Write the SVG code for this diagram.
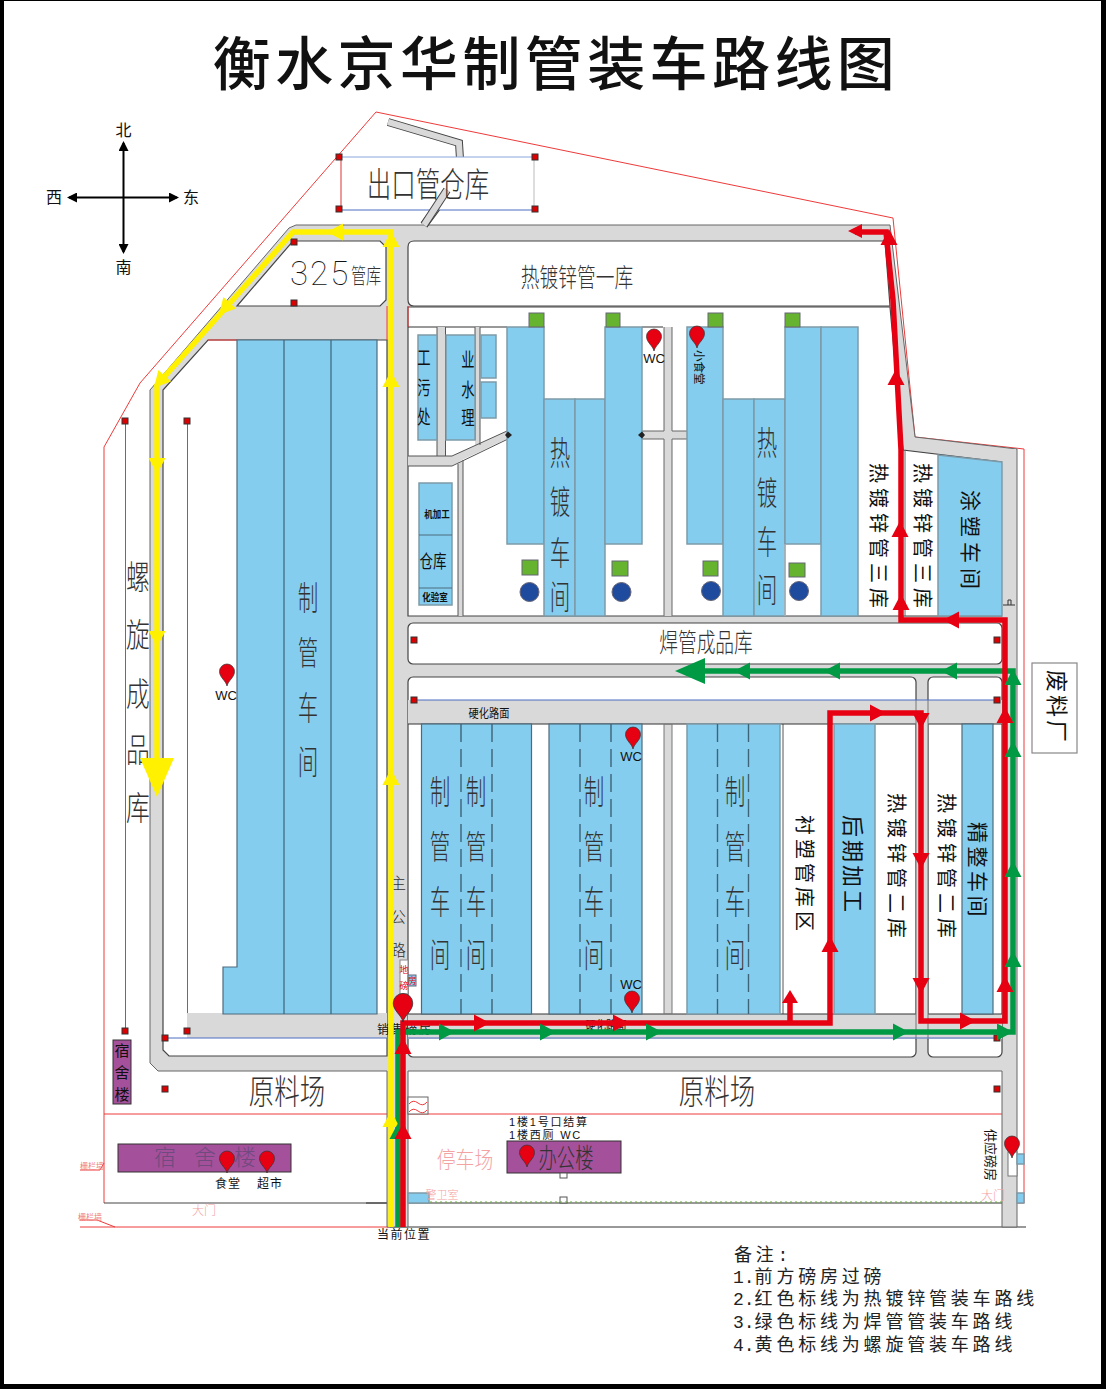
<svg xmlns="http://www.w3.org/2000/svg" width="1106" height="1389" viewBox="0 0 1106 1389">
<style>
text{font-family:"Noto Sans CJK SC","Liberation Sans",sans-serif;fill:#111}
.lat{font-family:"Liberation Sans","Noto Sans CJK SC",sans-serif}
.thin{font-weight:300;fill:#333}
.mid{text-anchor:middle}
.road{fill:#d9d9d9;stroke:#666;stroke-width:1}
.gr{fill:#d9d9d9}
.blk{fill:#fff;stroke:#444;stroke-width:1.2}
.b{fill:#85cdee;stroke:#4d6b7c;stroke-width:1.2}
.bd{fill:#85cdee;stroke:#7d9aa8;stroke-width:1.5}
.p{fill:#a5509a;stroke:#333;stroke-width:1}
.sq{fill:#65b32e;stroke:#667;stroke-width:1}
.ci{fill:#1f4b9e;stroke:#667;stroke-width:1}
.dash{stroke:#3d6478;stroke-width:1.4;stroke-dasharray:18 7;fill:none}
.rl{stroke:#ee3a3a;stroke-width:1;fill:none}
.bl{stroke:#4a6fc0;stroke-width:1;fill:none}
.dk{stroke:#333;stroke-width:1;fill:none}
.dot{fill:#d00;stroke:#333;stroke-width:1}
.R{fill:#e60012}.G{fill:#009944}.Y{fill:#fff100}
.rr{fill:none;stroke:#e60012;stroke-width:5.5}
.gg{fill:none;stroke:#009944;stroke-width:5.5}
.yy{fill:none;stroke:#fff100;stroke-width:5.5}
.note{font-family:"Liberation Mono","Noto Sans CJK SC",monospace;font-size:18px;letter-spacing:3.8px;fill:#222}
.note tspan{letter-spacing:0}
</style>
<defs>
<polygon id="a" points="9,0 -7,-8.500 -7,8.500"/>
<path id="pin" d="M0 0C-1.200-5.500-7.500-8.500-7.500-14.500A7.500 7.500 0 0 1 7.500-14.500C7.500-8.500 1.200-5.500 0 0Z" fill="#e60012" stroke="#333" stroke-width=".7"/>
<rect id="d" x="-3" y="-3" width="6" height="6" class="dot"/>
<marker id="bk" viewBox="0 0 10 10" refX="8" refY="5" markerWidth="5" markerHeight="5" orient="auto-start-reverse"><path d="M0 0L10 5L0 10Z" fill="#000"/></marker>
</defs>
<rect width="1106" height="1389" fill="#000"/>
<rect x="4" y="1" width="1097" height="1383" fill="#fff"/>
<g id="title"><text x="556" y="85" class="mid" font-size="58" font-weight="500" letter-spacing="4.400">衡水京华制管装车路线图</text></g>
<g id="compass">
<line x1="123.500" y1="252" x2="123.500" y2="143" stroke="#000" stroke-width="2" marker-end="url(#bk)" marker-start="url(#bk)"/>
<line x1="69" y1="197.500" x2="177" y2="197.500" stroke="#000" stroke-width="2" marker-end="url(#bk)" marker-start="url(#bk)"/>
<text x="123.500" y="136" class="mid" font-size="16">北</text>
<text x="123.500" y="273" class="mid" font-size="16">南</text>
<text x="54" y="203" class="mid" font-size="16">西</text>
<text x="191" y="203" class="mid" font-size="16">东</text>
</g>
<g id="site">
<path class="rl" d="M104 1203V447L140 383L376 112L893 218L915 437L1024 449V1203H1002"/>
<path class="rl" d="M104 1114H1002"/>
<path d="M104 1203H387" stroke="#444" stroke-width="1" fill="none"/>
<path class="dk" d="M366 1203H387M408 1203H1002M390 1227H1026"/>
<path class="rl" d="M80 1227H390M80 1220H97L115 1227M80 1170H100L104 1163"/>
</g>
<g id="roads">
<polygon class="road" points="296,225 890,225 915,437 1017,449 1017,1227 1002,1227 1002,1071 408,1071 408,1227 387,1227 387,1071 158,1071 150,1063 150,390 289,228"/>
<path d="M388 122L459 143L461 175L424 225" fill="none" stroke="#444" stroke-width="8"/>
<path d="M388 122L459 143L461 175L424 225" fill="none" stroke="#d9d9d9" stroke-width="6"/>
</g>
<g id="blocks">
<polygon class="blk" points="293,241 380,241 386,247 386,300 380,306 237,306"/>
<polygon class="blk" points="208,340 387,340 387,1056 169,1056 163,1050 163,390"/>
<rect class="gr" x="187" y="1013" width="200" height="25"/>
<path d="M387 306V340" stroke="#ee3a3a" fill="none"/><path d="M208 340H237" class="rl"/>
<path class="blk" d="M414 241H885L890 306H414Q408 306 408 300V247Q408 241 414 241Z"/>
<polygon class="blk" points="408,307 890,307 903,450 1002,462 1002,616 408,616"/>
<path class="dk" d="M408 327H507M642 327H663"/>
<path d="M408 306V327" class="rl"/>
<rect class="blk" x="408" y="623" width="594" height="41" rx="5"/>
<rect class="blk" x="408" y="677" width="508" height="380" rx="5"/>
<rect class="blk" x="928" y="677" width="74" height="380" rx="5"/>
<rect class="gr" x="408" y="700" width="594" height="24"/>
<rect class="gr" x="408" y="1014" width="594" height="25"/>
<rect class="gr" x="916" y="700" width="12" height="339"/>
<rect class="gr" x="664" y="724" width="8" height="290"/>
<rect x="782" y="724" width="2" height="290" fill="#aaa"/>
<path d="M408 724H916M928 724H1002M408 1014H916M928 1014H1002" class="dk"/>
<path d="M916 700V1040M928 700V1040M664 724V1014M672 724V1014" stroke="#777" fill="none"/>
<path class="bl" d="M414 700H997M165 1038H387M408 1038H997"/>
<rect class="gr" x="437" y="327" width="8.500" height="129"/>
<rect class="gr" x="475" y="327" width="5" height="118"/>
<polygon class="gr" points="408,456 452,456 507,431 509,438 462,460 452,466 408,466"/>
<rect class="gr" x="458" y="462" width="5" height="154"/>
<path d="M437 327V456M445.500 327V456M475 327V440M480 327V445M408 456H452L507 431M408 466H452L508 439M458 464V616M463 460V616" stroke="#555" fill="none"/>
<rect class="gr" x="664" y="327" width="8" height="289"/>
<polygon class="gr" points="642,431 687,431 690,435 687,439 642,439"/>
<path d="M664 327V431M672 327V431M664 439V616M672 439V616M642 431H664M672 431H687L690 435L687 439H672M642 439H664" stroke="#666" fill="none"/>
<rect class="gr" x="1002" y="449" width="14" height="170"/>
</g>
<g id="workshops">
<polygon class="b" points="237,340 377,340 377,1014 223,1014 223,967 237,967"/>
<path d="M284 340V1014M331 340V1014" stroke="#3d6478" stroke-width="1.200"/>
<rect class="bd" x="507" y="327" width="37" height="217"/>
<rect class="bd" x="544" y="399" width="31" height="217"/>
<rect class="bd" x="575" y="399" width="30" height="217"/>
<rect class="bd" x="605" y="327" width="37" height="217"/>
<rect class="bd" x="687" y="327" width="36" height="217"/>
<rect class="bd" x="723" y="399" width="31" height="217"/>
<rect class="bd" x="754" y="399" width="31" height="217"/>
<rect class="bd" x="785" y="327" width="36" height="217"/>
<rect class="bd" x="821" y="327" width="37" height="289"/>
<path d="M785 544V616" stroke="#bbb"/>
<polygon class="bd" points="938,455 1002,462 1002,616 938,616"/>
<path d="M905 450V616" stroke="#666"/>
<polygon points="505,435 508,431.500 512,435 508,438.500" fill="#222"/><polygon points="638,435 642,431.500 645,435 642,438.500" fill="#222"/>
<rect class="bd" x="418" y="335" width="19" height="105"/>
<rect class="bd" x="446" y="335" width="29" height="105"/>
<rect class="bd" x="481" y="335" width="15" height="43"/>
<rect class="bd" x="481" y="382" width="15" height="36"/>
<rect class="bd" x="419" y="483" width="33" height="122"/>
<path d="M419 535H452M419 588H452" stroke="#4d6b7c"/>
<rect class="b" x="421.500" y="724" width="110" height="290"/>
<rect class="b" x="549" y="724" width="93" height="290"/>
<rect class="bd" x="687" y="724" width="93" height="290"/>
<rect class="bd" x="834" y="724" width="41" height="290"/>
<rect class="b" x="962" y="724" width="31" height="290"/>
<path class="dash" d="M461 724V1014M492 724V1014M580 724V1014M611 724V1014M717.500 724V1014M748.500 724V1014"/>
<rect class="sq" x="529" y="313" width="15" height="14"/><rect class="sq" x="606" y="313" width="14" height="14"/>
<rect class="sq" x="708" y="313" width="15" height="14"/><rect class="sq" x="785" y="313" width="15" height="14"/>
<rect class="sq" x="522" y="560" width="16" height="15"/><rect class="sq" x="612" y="561" width="16" height="15"/>
<rect class="sq" x="703" y="561" width="15" height="15"/><rect class="sq" x="789" y="563" width="16" height="14"/>
<circle class="ci" cx="529.500" cy="592" r="9.500"/><circle class="ci" cx="621.500" cy="592" r="9.500"/>
<circle class="ci" cx="711" cy="591" r="9.500"/><circle class="ci" cx="799" cy="591" r="9.500"/>
<rect class="p" x="118" y="1144" width="173" height="28"/>
<rect class="p" x="113" y="1040" width="18" height="64"/>
<rect class="p" x="507" y="1141" width="114" height="32"/>
<rect x="400" y="960" width="8" height="34" fill="#fff" stroke="#888"/>
<rect x="408" y="975" width="8" height="11" fill="#85cdee" stroke="#667"/>
<rect x="408" y="1193" width="21" height="10" class="bd"/>
<rect x="408" y="1097" width="20" height="17" fill="#fff" stroke="#666"/>
<path d="M409 1104Q413 1099 418 1103T427 1102M409 1112Q413 1107 418 1111T427 1110" fill="none" stroke="#ee3a3a"/>
<rect x="560" y="1173" width="7" height="5" fill="#fff" stroke="#555"/>
<rect x="560" y="1197" width="7" height="6" fill="#fff" stroke="#555"/>
<path d="M430 1202H1002" stroke="#65b32e" stroke-dasharray="2 3"/>
<rect x="1008" y="1152" width="9" height="24" fill="#fff" stroke="#777"/>
<rect x="1017" y="1154" width="7" height="10" class="bd"/>
<rect x="1017" y="1193" width="7" height="10" class="bd"/>
<rect x="1032" y="663" width="45" height="90" fill="#fff" stroke="#888" stroke-width="1.200"/>
<path d="M1003 605H1015M1008 605V600H1011V605" stroke="#333" fill="none"/>
<rect x="341" y="157" width="193" height="53" fill="#fff" stroke="none"/>
<path d="M341 157H534" stroke="#8aa7dc"/><path d="M341 210H534" stroke="#4a6fc0"/><path d="M341 157V210" stroke="#d33"/><path d="M534 157V210" stroke="#bbb"/>
<path d="M424 225L447 190" stroke="#444" stroke-width="8" fill="none"/><path d="M424 225L447 190" stroke="#d9d9d9" stroke-width="6" fill="none"/>
<path class="bl" d="M125.500 421V1031M187.500 421V1013"/>
<g>
<use href="#d" x="339" y="157"/><use href="#d" x="535" y="157"/><use href="#d" x="339" y="209"/><use href="#d" x="535" y="209"/>
<use href="#d" x="294" y="242"/><use href="#d" x="294" y="303"/><use href="#d" x="125" y="421"/><use href="#d" x="187" y="421"/>
<use href="#d" x="125" y="1031"/><use href="#d" x="187" y="1031"/><use href="#d" x="165" y="1038"/><use href="#d" x="165" y="1089"/>
<use href="#d" x="414" y="640"/><use href="#d" x="997" y="640"/><use href="#d" x="414" y="700"/><use href="#d" x="997" y="700"/>
<use href="#d" x="997" y="1038"/><use href="#d" x="997" y="1089"/>
</g>
</g>
<g id="labels">
<text transform="translate(428 197) scale(.72 1)" class="mid thin" font-size="34">出口管仓库</text>
<text x="290" y="285" font-size="33" style="font-family:Roboto,sans-serif;font-weight:100" letter-spacing="2">325</text>
<text transform="translate(366 283) scale(.72 1)" class="mid thin" font-size="21">管库</text>
<text transform="translate(577 287) scale(.72 1)" class="mid thin" font-size="26">热镀锌管一库</text>
<text transform="translate(706 652) scale(.72 1)" class="mid thin" font-size="26">焊管成品库</text>
<text transform="translate(138 0) scale(.72 1)" class="mid thin" font-size="33"><tspan x="0" y="589">螺</tspan><tspan x="0" y="647">旋</tspan><tspan x="0" y="706">成</tspan><tspan x="0" y="762">品</tspan><tspan x="0" y="820">库</tspan></text>
<text transform="translate(308 0) scale(.62 1)" class="mid thin" font-size="33"><tspan x="0" y="610">制</tspan><tspan x="0" y="665">管</tspan><tspan x="0" y="720">车</tspan><tspan x="0" y="774">间</tspan></text>
<g id="zg" font-size="33">
<text transform="translate(440 0) scale(.62 1)" class="mid thin"><tspan x="0" y="804">制</tspan><tspan x="0" y="859">管</tspan><tspan x="0" y="914">车</tspan><tspan x="0" y="967">间</tspan></text>
<text transform="translate(476 0) scale(.62 1)" class="mid thin"><tspan x="0" y="804">制</tspan><tspan x="0" y="859">管</tspan><tspan x="0" y="914">车</tspan><tspan x="0" y="967">间</tspan></text>
<text transform="translate(594 0) scale(.62 1)" class="mid thin"><tspan x="0" y="804">制</tspan><tspan x="0" y="859">管</tspan><tspan x="0" y="914">车</tspan><tspan x="0" y="967">间</tspan></text>
<text transform="translate(735 0) scale(.62 1)" class="mid thin"><tspan x="0" y="804">制</tspan><tspan x="0" y="859">管</tspan><tspan x="0" y="914">车</tspan><tspan x="0" y="967">间</tspan></text>
<text transform="translate(560 0) scale(.62 1)" class="mid thin"><tspan x="0" y="465">热</tspan><tspan x="0" y="514">镀</tspan><tspan x="0" y="565">车</tspan><tspan x="0" y="609">间</tspan></text>
<text transform="translate(767 0) scale(.62 1)" class="mid thin"><tspan x="0" y="455">热</tspan><tspan x="0" y="505">镀</tspan><tspan x="0" y="554">车</tspan><tspan x="0" y="602">间</tspan></text>
</g>
<text transform="translate(424 0) scale(.7 1)" class="mid" font-size="19"><tspan x="0" y="365">工</tspan><tspan x="0" y="395">污</tspan><tspan x="0" y="424">处</tspan></text>
<text transform="translate(468 0) scale(.7 1)" class="mid" font-size="19"><tspan x="0" y="367">业</tspan><tspan x="0" y="397">水</tspan><tspan x="0" y="425">理</tspan></text>
<text transform="translate(437 518) scale(.85 1)" class="mid" font-size="10" font-weight="700">机加工</text>
<text transform="translate(433 568) scale(.75 1)" class="mid" font-size="18">仓库</text>
<text transform="translate(435 601) scale(.85 1)" class="mid" font-size="10" font-weight="700">化验室</text>
<text transform="translate(695 350) rotate(90)" font-size="11.500">小食堂</text>
<text transform="translate(871 463) rotate(90)" font-size="20" letter-spacing="5">热镀锌管三库</text>
<text transform="translate(915 463) rotate(90)" font-size="20" letter-spacing="5">热镀锌管三库</text>
<text transform="translate(963 490) rotate(90)" font-size="21" letter-spacing="5">涂塑车间</text>
<text transform="translate(1049 670) rotate(90)" font-size="22" letter-spacing="3">废料厂</text>
<text transform="translate(845 815) rotate(90)" font-size="22" letter-spacing="3">后期加工</text>
<text transform="translate(889 793) rotate(90)" font-size="20" letter-spacing="5">热镀锌管二库</text>
<text transform="translate(939 793) rotate(90)" font-size="20" letter-spacing="5">热镀锌管二库</text>
<text transform="translate(970 822) rotate(90)" font-size="21" letter-spacing="3.500">精整车间</text>
<text transform="translate(797 815) rotate(90)" font-size="20" letter-spacing="4">衬塑管库区</text>
<text transform="translate(489 718) scale(.85 1)" class="mid" font-size="12">硬化路面</text>
<text transform="translate(606 1030) scale(.85 1)" class="mid" font-size="12">硬化路面</text>
<text x="377" y="1034" font-size="12" letter-spacing="2">销售磅房</text>
<text class="mid thin" font-size="16"><tspan x="398" y="889">主</tspan><tspan x="398" y="923">公</tspan><tspan x="398" y="956">路</tspan></text>
<text class="mid" font-size="9" style="fill:#e60012"><tspan x="404" y="973">地</tspan><tspan x="404" y="989">磅</tspan><tspan x="412" y="984">房</tspan></text>
<text transform="translate(287 1104) scale(.75 1)" class="mid thin" font-size="34">原料场</text>
<text transform="translate(717 1104) scale(.75 1)" class="mid thin" font-size="34">原料场</text>
<text transform="translate(465 1168) scale(.82 1)" class="mid thin" font-size="23" style="fill:#f4a3a3">停车场</text>
<text x="442" y="1199" class="mid thin" font-size="11" style="fill:#f4a3a3">警卫室</text>
<text x="204" y="1215" class="mid thin" font-size="12" style="fill:#f4a3a3">大门</text>
<text x="993" y="1200" class="mid thin" font-size="12" style="fill:#f4a3a3">大门</text>
<text x="92" y="1169" class="mid" font-size="8" style="fill:#f08080">栅栏墙</text>
<text x="90" y="1220" class="mid" font-size="8" style="fill:#f08080">栅栏墙</text>
<text transform="translate(566 1168) scale(.68 1)" class="mid thin" font-size="27">办公楼</text>
<text class="mid thin" font-size="22" style="fill:#6f4a7e"><tspan x="165" y="1165">宿</tspan><tspan x="205" y="1165">舍</tspan><tspan x="245" y="1165">楼</tspan></text>
<text class="mid" font-size="15"><tspan x="122" y="1056">宿</tspan><tspan x="122" y="1078">舍</tspan><tspan x="122" y="1100">楼</tspan></text>
<text x="509" y="1125.500" font-size="11" letter-spacing="1.800" class="lat">1楼1号口结算</text>
<text x="509" y="1139" font-size="11" letter-spacing="1.800" class="lat">1楼西厕 WC</text>
<text x="215" y="1188" font-size="12" letter-spacing="1">食堂</text>
<text x="257" y="1188" font-size="12" letter-spacing="1">超市</text>
<text x="377" y="1239" font-size="12" letter-spacing="1.500">当前位置</text>
<text class="lat mid" x="654" y="363" font-size="13">WC</text>
<text class="lat mid" x="226" y="700" font-size="13">WC</text>
<text class="lat mid" x="631" y="761" font-size="13">WC</text>
<text class="lat mid" x="631" y="989" font-size="13">WC</text>
<text transform="translate(986 1129) rotate(90)" font-size="13">供应磅房</text>
<g id="notes">
<text class="note" x="734" y="1261">备注:</text>
<text class="note" x="733" y="1283"><tspan>1.</tspan>前方磅房过磅</text>
<text class="note" x="733" y="1305"><tspan>2.</tspan>红色标线为热镀锌管装车路线</text>
<text class="note" x="733" y="1328"><tspan>3.</tspan>绿色标线为焊管管装车路线</text>
<text class="note" x="733" y="1351"><tspan>4.</tspan>黄色标线为螺旋管装车路线</text>
</g>
</g>
<g id="connectors">
<path class="yy" d="M391 1227V232H293L157 385V775"/>
<polygon class="Y" points="140,758 174,758 157,797"/>
<path class="gg" d="M398 1227V1032H1013V671H695"/>
<polygon class="G" points="705,658 705,684 675,671"/>
<path class="rr" d="M403 1227V1023H830V713H921V1021H1005V620H901V450L893 300L886 232H855M790 1023V998"/>
<polygon class="R" points="790,990 798,1003 782,1003"/>
<polygon class="R" points="848,231 862,224 862,238"/>
<use href="#a" class="Y" transform="translate(391 1120) rotate(-90)"/>
<use href="#a" class="Y" transform="translate(391 778) rotate(-90)"/>
<use href="#a" class="Y" transform="translate(391 380) rotate(-90)"/>
<use href="#a" class="Y" transform="translate(391 240) rotate(-90)"/>
<use href="#a" class="Y" transform="translate(336 232) rotate(180)"/>
<use href="#a" class="Y" transform="translate(225 308) rotate(132)"/>
<use href="#a" class="Y" transform="translate(160 381) rotate(132)"/>
<use href="#a" class="Y" transform="translate(157 465) rotate(90)"/>
<use href="#a" class="Y" transform="translate(157 638) rotate(90)"/>
<use href="#a" class="G" transform="translate(398 1132) rotate(-90)"/>
<use href="#a" class="G" transform="translate(446 1032)"/>
<use href="#a" class="G" transform="translate(547 1032)"/>
<use href="#a" class="G" transform="translate(653 1032)"/>
<use href="#a" class="G" transform="translate(900 1032)"/>
<use href="#a" class="G" transform="translate(1004 1032)"/>
<use href="#a" class="G" transform="translate(1013 960) rotate(-90)"/>
<use href="#a" class="G" transform="translate(1013 870) rotate(-90)"/>
<use href="#a" class="G" transform="translate(1013 750) rotate(-90)"/>
<use href="#a" class="G" transform="translate(1013 678) rotate(-90)"/>
<use href="#a" class="G" transform="translate(950 671) rotate(180)"/>
<use href="#a" class="G" transform="translate(833 671) rotate(180)"/>
<use href="#a" class="G" transform="translate(743 671) rotate(180)"/>
<use href="#a" class="R" transform="translate(403 1047) rotate(-90)"/>
<use href="#a" class="R" transform="translate(403 1132) rotate(-90)"/>
<use href="#a" class="R" transform="translate(481 1023)"/>
<use href="#a" class="R" transform="translate(620 1023)"/>
<use href="#a" class="R" transform="translate(830 945) rotate(-90)"/>
<use href="#a" class="R" transform="translate(877 713)"/>
<use href="#a" class="R" transform="translate(921 720) rotate(90)"/>
<use href="#a" class="R" transform="translate(921 860) rotate(90)"/>
<use href="#a" class="R" transform="translate(921 985) rotate(90)"/>
<use href="#a" class="R" transform="translate(967 1021)"/>
<use href="#a" class="R" transform="translate(1005 985) rotate(-90)"/>
<use href="#a" class="R" transform="translate(1005 716) rotate(-90)"/>
<use href="#a" class="R" transform="translate(952 620) rotate(180)"/>
<use href="#a" class="R" transform="translate(901 603) rotate(-90)"/>
<use href="#a" class="R" transform="translate(900 530) rotate(-90)"/>
<use href="#a" class="R" transform="translate(896 378) rotate(-90)"/>
<use href="#a" class="R" transform="translate(889 238) rotate(-90)"/>
</g>
<g id="pins">
<use href="#pin" x="654" y="351"/><use href="#pin" x="697" y="348"/><use href="#pin" x="227" y="686"/>
<use href="#pin" x="633" y="749"/><use href="#pin" x="632" y="1013"/>
<use href="#pin" x="527" y="1167"/><use href="#pin" x="227" y="1173"/><use href="#pin" x="267" y="1173"/><use href="#pin" x="1012" y="1158"/>
<path transform="translate(403 1022) scale(1.300)" d="M0 0C-1.200-5.500-7.500-8.500-7.500-14.500A7.500 7.500 0 0 1 7.500-14.500C7.500-8.500 1.200-5.500 0 0Z" fill="#e60012" stroke="#333" stroke-width=".6"/>
</g>
</svg>
